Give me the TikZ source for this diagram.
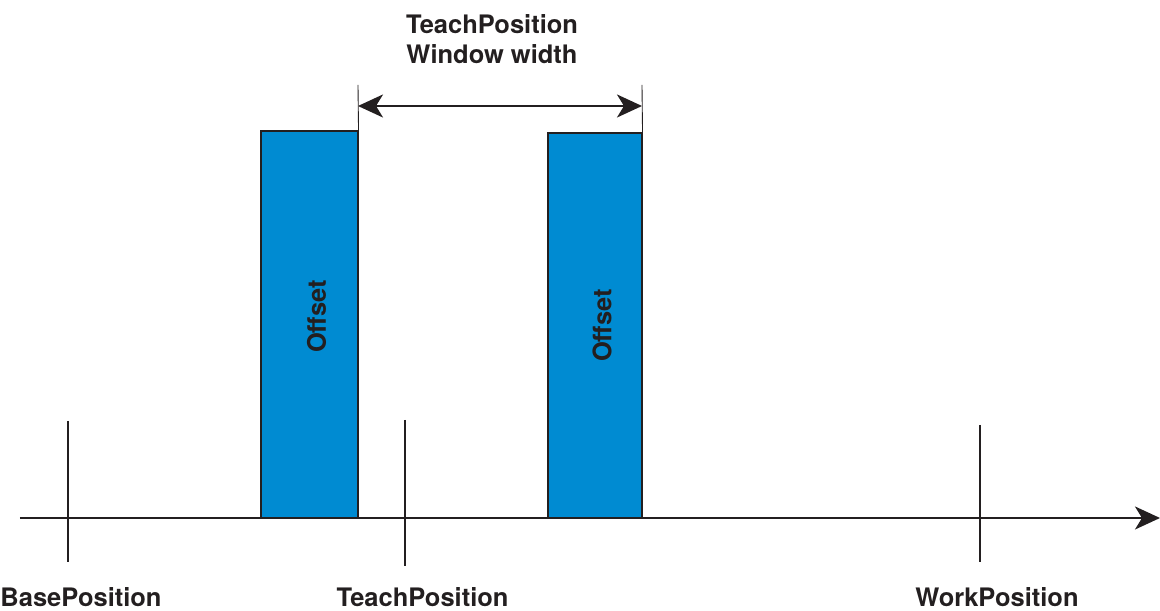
\documentclass[tikz,border=0pt]{standalone}
\usepackage{fontspec}
\setmainfont{TeX Gyre Heros}
\usetikzlibrary{arrows.meta}
\definecolor{offsetblue}{RGB}{0,139,210}
\definecolor{linegray}{RGB}{35,31,32}
\newcommand{\offsettext}[1]{\hspace*{.28cm}\rotatebox{90}{\hspace*{#1}Offset}}
\tikzstyle{bar}=[draw=linegray, line width=.6pt, fill=offsetblue, font=\fontsize{14.5}{17}\selectfont\bfseries, text=linegray]
\tikzstyle{tick}=[draw=linegray, line width=1.3pt]
\tikzstyle{label}=[font=\fontsize{14.5}{17}\selectfont\bfseries, text=linegray]
\tikzset{guide/.style={draw=linegray, line width=.5pt}}
\tikzset{>={Stealth[length=5mm,width=4.6mm,inset=1.4mm]}}

\begin{document}
\begin{tikzpicture}
  \useasboundingbox (0,0) rectangle (23.2,12.22);
  %% Offset bars
  \draw (6.19,5.73) node[bar,minimum width=1.94cm,minimum height=7.74cm] (B1) {\offsettext{.32cm}};
  \draw (11.9,5.71) node[bar,minimum width=1.88cm,minimum height=7.7cm] (B2) {\offsettext{0cm}};

  %% Axis
  \coordinate (X0) at (0.4,1.86);
  \coordinate (X1) at (23.2,1.86);
  \draw[tick,->] (X0) -- (X1);

  %% Positions
  \coordinate (P1a) at (1.36,3.8);
  \coordinate (P1b) at (1.36,0.98);
  \coordinate (P2a) at (8.1,3.82);
  \coordinate (P2b) at (8.1,0.9);
  \coordinate (P3a) at (19.6,3.72);
  \coordinate (P3b) at (19.6,0.98);
  \draw[tick] (P1a) -- (P1b);
  \draw[tick] (P2a) -- (P2b);
  \draw[tick] (P3a) -- (P3b);
  \draw (1.62,0.27) node[label] (L1) {BasePosition};
  \draw (8.45,0.27) node[label] (L2) {TeachPosition};
  \draw (19.94,0.27) node[label] (L3) {WorkPosition};

  %% Window width
  \coordinate (W1) at (7.16,10.52);
  \coordinate (W2) at (12.84,10.52);
  \coordinate (A1) at (7.16,10.1);
  \coordinate (A2) at (12.84,10.1);
  \draw[guide] (B1.north east) -- (W1);
  \draw[guide] (B2.north east) -- (W2);
  \draw[tick,<->] (A1) -- (A2);
  \draw (9.84,11.43) node[label,align=center] (LW) {TeachPosition\\Window width};
\end{tikzpicture}
\end{document}
